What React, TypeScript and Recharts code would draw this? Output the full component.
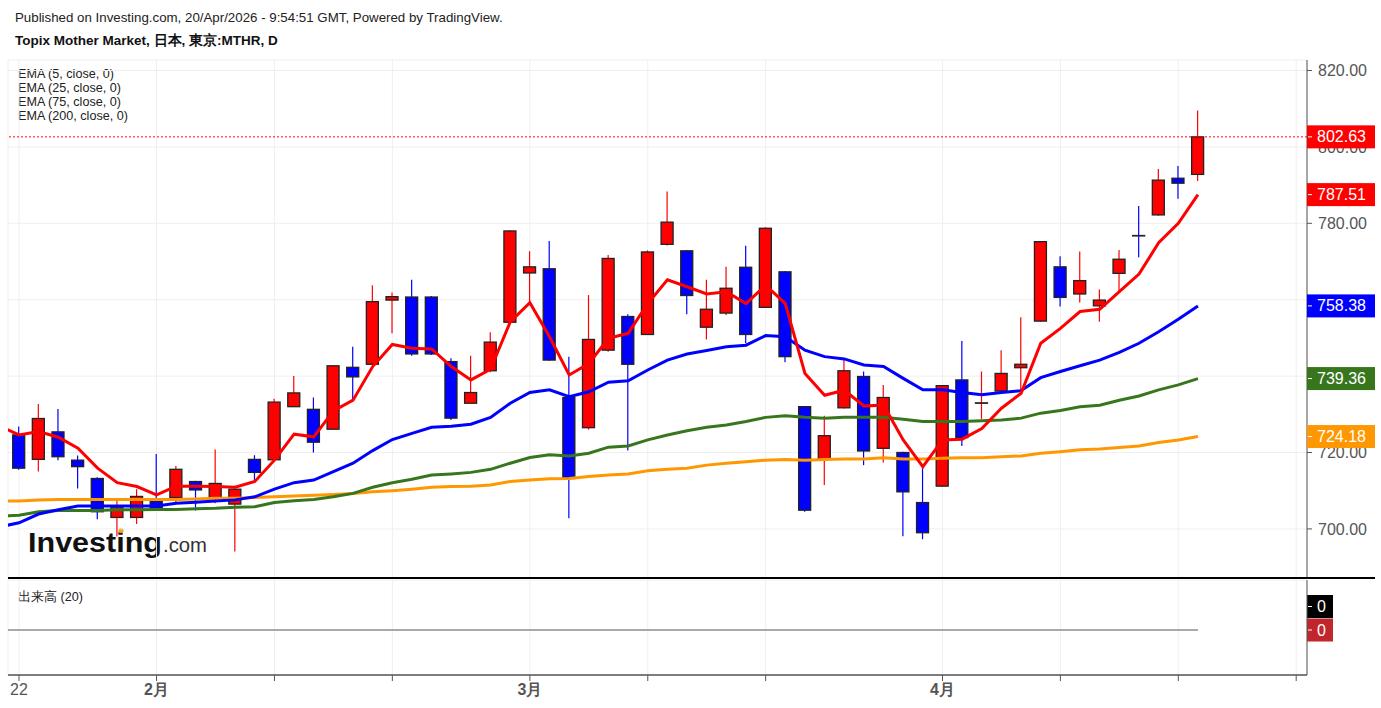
import React from "react"
import {
  ComposedChart, Bar, Line, XAxis, YAxis, CartesianGrid, ReferenceLine,
} from "recharts"

// daily bars, 22 Jan 2026 .. 20 Apr 2026 (x = bar index 0..60)
const OPEN = [
  724.6, 718.2, 725.4, 718.0, 713.2, 703.0, 703.0, 707.3, 708.2, 712.4,
  708.2, 706.5, 718.2, 718.1, 732.0, 731.3, 726.1, 742.3, 743.1, 759.9,
  760.7, 760.7, 743.8, 732.9, 741.4, 754.1, 767.0, 768.1, 734.4, 726.5,
  746.8, 755.6, 750.9, 774.5, 772.8, 752.8, 756.5, 768.5, 758.0, 767.3,
  732.0, 718.3, 731.7, 739.9, 721.1, 720.0, 706.9, 711.2, 739.0, 732.9,
  736.1, 742.2, 754.4, 768.6, 761.5, 758.4, 766.9, 776.8, 782.2, 791.8,
  792.8,
]
const HIGH = [
  726.8, 732.7, 731.4, 719.2, 713.5, 707.8, 710.4, 719.6, 716.5, 712.6,
  720.8, 711.3, 719.3, 734.1, 740.0, 734.4, 742.9, 747.7, 763.8, 761.9,
  765.2, 761.0, 744.7, 745.3, 751.5, 778.2, 772.7, 775.4, 745.1, 761.2,
  771.7, 756.2, 772.9, 788.3, 773.0, 765.2, 768.6, 774.1, 779.0, 767.5,
  732.2, 729.6, 744.2, 741.2, 737.7, 720.2, 716.3, 737.6, 749.2, 741.2,
  746.8, 755.4, 775.3, 771.4, 772.6, 762.7, 773.0, 784.5, 794.2, 795.0,
  809.5,
]
const LOW = [
  715.5, 715.0, 718.0, 710.6, 702.5, 698.0, 701.3, 705.1, 706.7, 704.8,
  706.7, 694.1, 712.8, 718.0, 732.0, 720.0, 726.0, 733.7, 743.0, 751.2,
  745.3, 745.5, 728.5, 732.9, 741.0, 754.0, 759.5, 744.0, 702.8, 726.0,
  746.4, 720.5, 750.8, 774.2, 756.2, 749.6, 756.0, 748.6, 757.8, 743.6,
  704.5, 711.5, 731.5, 716.7, 717.4, 698.1, 697.3, 711.0, 721.7, 728.8,
  736.0, 735.5, 754.2, 758.2, 759.3, 754.2, 762.1, 771.1, 782.0, 786.4,
  791.1,
]
const CLOSE = [
  715.9, 728.9, 718.9, 716.3, 704.5, 705.7, 708.5, 705.4, 715.6, 710.2,
  711.9, 710.4, 714.8, 733.2, 735.6, 722.7, 742.7, 739.8, 759.5, 760.8,
  745.8, 745.8, 729.0, 735.7, 748.9, 778.0, 768.6, 744.2, 713.2, 749.6,
  770.8, 743.1, 772.5, 780.3, 761.1, 757.5, 763.0, 750.9, 778.7, 745.1,
  704.9, 724.4, 741.4, 720.4, 734.4, 709.7, 699.0, 737.5, 723.9, 733.0,
  740.7, 743.1, 775.2, 760.6, 765.0, 759.9, 770.6, 776.7, 791.3, 790.5,
  802.63,
]

// EMA values, first entry is the day before 22 Jan (x = -1)
const EMA5 = [
  727.0,
  724.6, 725.5, 724.0, 721.1, 715.9, 712.1, 711.1, 708.9, 711.2, 711.2,
  711.1, 710.9, 712.4, 718.0, 724.8, 724.1, 730.9, 733.7, 742.5, 748.3,
  747.3, 747.1, 742.5, 739.0, 741.8, 754.2, 759.2, 750.3, 740.3, 743.3,
  749.9, 751.2, 759.0, 765.2, 763.4, 761.5, 762.1, 759.0, 763.8, 759.0,
  740.7, 735.0, 736.3, 732.2, 732.4, 723.3, 716.3, 723.3, 723.5, 726.3,
  731.6, 735.5, 748.6, 752.5, 756.9, 757.5, 762.1, 766.7, 774.9, 780.0,
  787.51,
]
const EMA25 = [
  700.5,
  701.6, 703.9, 705.0, 706.0, 706.0, 706.0, 706.0, 706.0, 706.7, 707.0,
  707.3, 707.6, 708.4, 710.4, 712.1, 712.8, 715.0, 717.2, 720.5, 723.4,
  725.0, 726.6, 726.9, 727.4, 729.2, 732.9, 735.7, 736.4, 734.6, 735.9,
  738.4, 738.8, 741.6, 744.2, 745.8, 746.7, 747.7, 748.1, 750.6, 750.3,
  746.8, 745.1, 744.5, 742.9, 742.5, 739.4, 736.4, 736.4, 735.7, 735.1,
  735.7, 736.2, 739.6, 741.2, 742.7, 744.2, 746.2, 748.6, 751.6, 754.9,
  758.38,
]
const EMA75 = [
  703.3,
  703.6, 704.5, 704.8, 704.8, 704.8, 705.0, 705.0, 705.1, 705.1, 705.3,
  705.4, 705.7, 705.8, 706.9, 707.4, 707.7, 708.4, 709.3, 710.9, 712.1,
  713.0, 714.1, 714.4, 714.8, 715.6, 717.2, 718.7, 719.4, 719.1, 719.8,
  721.4, 721.7, 723.3, 724.6, 725.7, 726.6, 727.2, 728.1, 729.2, 729.6,
  729.2, 729.0, 729.2, 729.2, 729.2, 728.7, 728.1, 728.1, 728.1, 728.3,
  728.5, 729.0, 730.3, 731.0, 732.0, 732.4, 733.7, 734.8, 736.4, 737.7,
  739.36,
]
const EMA200 = [
  707.3,
  707.3, 707.6, 707.7, 707.7, 707.7, 707.7, 707.7, 707.7, 707.7, 707.8,
  708.0, 708.0, 708.2, 708.4, 708.6, 708.8, 709.0, 709.3, 709.7, 710.0,
  710.4, 710.9, 711.1, 711.2, 711.5, 712.4, 712.8, 713.1, 713.2, 713.7,
  714.1, 714.4, 715.2, 715.6, 715.9, 716.7, 717.2, 717.6, 718.0, 718.2,
  718.0, 718.2, 718.3, 718.3, 718.6, 718.3, 718.3, 718.5, 718.6, 718.6,
  718.9, 719.1, 719.8, 720.2, 720.7, 720.9, 721.3, 721.7, 722.6, 723.3,
  724.18,
]

const TICK_IDX = [0, 7, 13, 19, 26, 32, 38, 47, 53, 59, 65]
const TICK_LABEL = ["22", "2月", "", "", "3月", "", "", "4月", "", "", ""]
const PRICE_TICKS = [700, 720, 740, 760, 780, 800, 820]
const X_DOMAIN = [-0.56, 65.55]
const Y_DOMAIN = [687.15, 822.75]

const RED = "#ff0000"
const BLUE = "#0000ff"
const GREEN = "#38761d"
const ORANGE = "#ff9800"

const last = (a: number[]) => a[a.length - 1]
const lastClose = last(CLOSE)

const tags = [
  { v: lastClose, bg: RED },
  { v: last(EMA5), bg: RED },
  { v: last(EMA25), bg: BLUE },
  { v: last(EMA75), bg: GREEN },
  { v: last(EMA200), bg: ORANGE },
]

const rows = EMA5.map((_, k) => {
  const i = k - 1
  const row: any = {
    x: i, ema5: EMA5[k], ema25: EMA25[k], ema75: EMA75[k], ema200: EMA200[k], vol: 0,
  }
  if (i >= 0) {
    row.o = OPEN[i]; row.h = HIGH[i]; row.l = LOW[i]; row.c = CLOSE[i]
    row.range = [LOW[i], HIGH[i]]
  }
  return row
})

function Candle(props: any) {
  const { x, y, width, height, payload } = props
  if (!payload || payload.o == null) return null
  const { o, h, l, c } = payload
  const top = Math.min(y, y + height)
  const k = Math.abs(height) / (h - l)
  const yAt = (v: number) => top + (h - v) * k
  const cx = x + width / 2
  const up = c >= o
  const col = up ? RED : BLUE
  const bTop = yAt(Math.max(o, c))
  const bH = Math.max(0.4, yAt(Math.min(o, c)) - bTop)
  return (
    <g>
      <line x1={cx} x2={cx} y1={yAt(h)} y2={yAt(l)} stroke={col} strokeWidth={1.2} />
      <rect x={cx - 6} y={bTop} width={12} height={bH} fill={col} stroke="#222" strokeWidth={1.3} />
    </g>
  )
}

function PriceTag(props: any) {
  const { viewBox, text, bg } = props
  const right = viewBox.x + viewBox.width
  const cy = viewBox.y
  return (
    <g>
      <rect x={right} y={cy - 11.5} width={68} height={23} fill={bg} />
      <line x1={right + 1} x2={right + 5} y1={cy} y2={cy} stroke="#fff" />
      <text x={right + 10} y={cy} dy={5.5} fill="#fff" fontSize={16}>{text}</text>
    </g>
  )
}

function VolTags(props: any) {
  const { viewBox } = props
  const right = viewBox.x + viewBox.width
  const cy = viewBox.y
  return (
    <g>
      <rect x={right} y={cy - 35} width={26} height={23} fill="#000" />
      <line x1={right + 1} x2={right + 5} y1={cy - 23.5} y2={cy - 23.5} stroke="#fff" />
      <text x={right + 10} y={cy - 23.5} dy={5.5} fill="#fff" fontSize={16}>0</text>
      <rect x={right} y={cy - 11.5} width={26} height={23} fill="#c0262b" />
      <line x1={right + 1} x2={right + 5} y1={cy} y2={cy} stroke="#fff" />
      <text x={right + 10} y={cy} dy={5.5} fill="#fff" fontSize={16}>0</text>
    </g>
  )
}

function MonthTick(props: any) {
  const { x, y, payload } = props
  const label = TICK_LABEL[TICK_IDX.indexOf(payload.value)] ?? ""
  const bold = label.endsWith("月")
  return (
    <text x={x} y={y} dy={12} textAnchor="middle" fontSize={16} fill="#555" fontWeight={bold ? 700 : 400}>
      {label}
    </text>
  )
}

// price labels that sit fully under a coloured tag are not shown
const priceLabel = (v: number) =>
  tags.some((t) => Math.abs(t.v - v) < 2) ? "" : v.toFixed(2)

export default function App() {
  return (
    <div style={{
      position: "absolute", left: 0, top: 0, width: 1381, height: 708, background: "#fff",
      fontFamily: "'Liberation Sans', Arial, sans-serif", overflow: "hidden",
    }}>
      <svg width={1381} height={708} style={{ position: "absolute", left: 0, top: 0 }}>
        <text x={15} y={22} fontSize={13.3} fill="#222">
          Published on Investing.com, 20/Apr/2026 - 9:54:51 GMT, Powered by TradingView.
        </text>
        <text x={15} y={45} fontSize={13.5} fontWeight={700} fill="#111">
          Topix Mother Market, 日本, 東京:MTHR, D
        </text>
        {["EMA (5, close, 0)", "EMA (25, close, 0)", "EMA (75, close, 0)", "EMA (200, close, 0)"].map((t, i) => (
          <text key={t} x={18} y={78 + i * 14} fontSize={12.6} fill="#222">{t}</text>
        ))}
        <text x={18} y={601} fontSize={12.6} fill="#222">出来高 (20)</text>
        <text x={28} y={552} fontSize={28} fontWeight={700} fill="#111"
          textLength={134} lengthAdjust="spacingAndGlyphs">Investing</text>
        <text x={163} y={552} fontSize={21} fill="#333"
          textLength={44} lengthAdjust="spacingAndGlyphs">.com</text>
        <circle cx={121} cy={530.5} r={2.6} fill="#f7a21b" />
      </svg>

      <div style={{ position: "absolute", left: 0, top: 0 }}>
        <ComposedChart width={1381} height={580} data={rows} margin={{ top: 60, right: 0, bottom: 2, left: 8 }}>
          <CartesianGrid stroke="#efefef" />
          <XAxis dataKey="x" type="number" domain={X_DOMAIN} allowDataOverflow ticks={TICK_IDX} hide />
          <YAxis
            orientation="right"
            domain={Y_DOMAIN}
            allowDataOverflow
            ticks={PRICE_TICKS}
            width={74}
            tickFormatter={priceLabel}
            tick={{ fill: "#555", fontSize: 16 }}
            tickSize={5}
            tickMargin={6}
            axisLine={{ stroke: "#555" }}
            tickLine={{ stroke: "#555" }}
          />
          <Line dataKey="ema200" stroke={ORANGE} strokeWidth={3} dot={false} isAnimationActive={false} />
          <Line dataKey="ema75" stroke={GREEN} strokeWidth={3} dot={false} isAnimationActive={false} />
          <Line dataKey="ema25" stroke={BLUE} strokeWidth={3} dot={false} isAnimationActive={false} />
          <Line dataKey="ema5" stroke={RED} strokeWidth={3} dot={false} isAnimationActive={false} />
          <Bar dataKey="range" barSize={13} shape={<Candle />} isAnimationActive={false} />
          <ReferenceLine y={lastClose} stroke={RED} strokeDasharray="2 2" />
        </ComposedChart>
      </div>

      {/* coloured last-value tags, drawn over the price axis */}
      <div style={{ position: "absolute", left: 0, top: 0 }}>
        <ComposedChart width={1381} height={580} data={rows} margin={{ top: 60, right: 0, bottom: 2, left: 8 }}>
          <XAxis dataKey="x" type="number" domain={X_DOMAIN} allowDataOverflow hide />
          <YAxis orientation="right" domain={Y_DOMAIN} allowDataOverflow width={74}
            tick={false} tickLine={false} axisLine={false} />
          {tags.map((t, i) => (
            <ReferenceLine key={i} y={t.v} stroke="none"
              label={<PriceTag text={t.v.toFixed(2)} bg={t.bg} />} />
          ))}
        </ComposedChart>
      </div>

      <div style={{ position: "absolute", left: 8, top: 577, width: 1367, height: 2, background: "#000" }} />

      <div style={{ position: "absolute", left: 0, top: 578 }}>
        <ComposedChart width={1381} height={130} data={rows} margin={{ top: 2, right: 0, bottom: 0, left: 8 }}>
          <CartesianGrid stroke="#efefef" />
          <XAxis
            dataKey="x"
            type="number"
            domain={X_DOMAIN}
            allowDataOverflow
            ticks={TICK_IDX}
            interval={0}
            height={33}
            tick={<MonthTick />}
            tickSize={6}
            axisLine={{ stroke: "#555", strokeWidth: 1.5 }}
            tickLine={{ stroke: "#555" }}
          />
          <YAxis orientation="right" domain={[-0.9, 1]} allowDataOverflow ticks={[0]} width={74}
            tick={false} axisLine={{ stroke: "#555" }} />
          <Line dataKey="vol" stroke="#a9a9a9" strokeWidth={2} dot={false} isAnimationActive={false} />
          <ReferenceLine y={0} stroke="none" label={<VolTags />} />
        </ComposedChart>
      </div>
    </div>
  )
}
